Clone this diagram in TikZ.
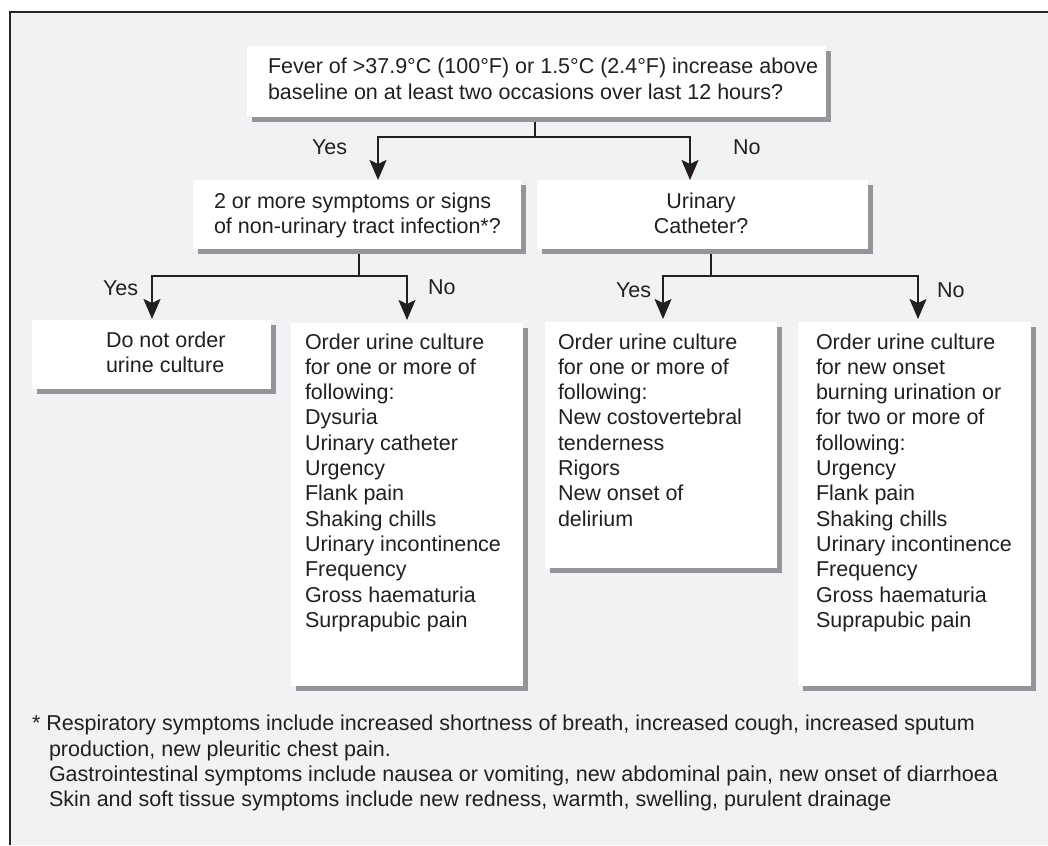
\documentclass[tikz,border=0pt]{standalone}
\usepackage{fontspec}
\setmainfont{Liberation Sans}
\usetikzlibrary{arrows.meta,shadows,calc}
\definecolor{panel}{HTML}{F1F2F4}
\definecolor{shade}{HTML}{939598}
\definecolor{ink}{HTML}{231F20}
\begin{document}
\begin{tikzpicture}[x=1pt,y=-1pt,
  box/.style={fill=white, draw=none, inner sep=0pt, outer sep=0pt, anchor=north west,
    drop shadow={shadow xshift=5pt, shadow yshift=-5pt, fill=shade, opacity=1}},
  txt/.style={inner sep=0pt, outer sep=0pt, anchor=base west, text=ink,
    font=\fontsize{21.5}{25.3}\selectfont},
  link/.style={draw=ink, line width=2pt},
  arrow/.style={link, -{Stealth[length=20pt,width=17pt,inset=4pt]}}]

% page and panel
\useasboundingbox (0,0) rectangle (1048,845);
\fill[white] (0,0) rectangle (1048,845);
\fill[panel] (10,12) rectangle (1048,845);
\draw[line width=1.2pt, draw=black!85] (10,845) -- (10,12) -- (1048,12);

% boxes
\node[box, minimum width=579pt, minimum height=71pt] (b1) at (247,46) {};
\node[box, minimum width=328pt, minimum height=69pt] (b2) at (193,180) {};
\node[box, minimum width=331pt, minimum height=69pt] (b3) at (537,180) {};
\node[box, minimum width=239pt, minimum height=69pt] (b4) at (32,320) {};
\node[box, minimum width=232pt, minimum height=363pt] (b5) at (291,323) {};
\node[box, minimum width=232pt, minimum height=246pt] (b6) at (545,322) {};
\node[box, minimum width=233pt, minimum height=364pt] (b7) at (798,322) {};

% box texts
\node[txt] (t1) at (268,74) {\begin{tabular}[t]{@{}l@{}}
  Fever of >37.9°C (100°F) or 1.5°C (2.4°F) increase above\\
  baseline on at least two occasions over last 12 hours?\end{tabular}};
\node[txt] (t2) at (214,208) {\begin{tabular}[t]{@{}l@{}}
  2 or more symptoms or signs\\
  of non-urinary tract infection*?\end{tabular}};
\node[txt, anchor=base] (t3) at (701,208) {\begin{tabular}[t]{@{}c@{}}
  Urinary\\ Catheter?\end{tabular}};
\node[txt] (t4) at (106,347) {\begin{tabular}[t]{@{}l@{}}
  Do not order\\ urine culture\end{tabular}};
\node[txt] (t5) at (305,349) {\begin{tabular}[t]{@{}l@{}}
  Order urine culture\\ for one or more of\\ following:\\ Dysuria\\
  Urinary catheter\\ Urgency\\ Flank pain\\ Shaking chills\\
  Urinary incontinence\\ Frequency\\ Gross haematuria\\
  Surprapubic pain\end{tabular}};
\node[txt] (t6) at (558,349) {\begin{tabular}[t]{@{}l@{}}
  Order urine culture\\ for one or more of\\ following:\\
  New costovertebral\\ tenderness\\ Rigors\\ New onset of\\
  delirium\end{tabular}};
\node[txt] (t7) at (816,349) {\begin{tabular}[t]{@{}l@{}}
  Order urine culture\\ for new onset\\ burning urination or\\
  for two or more of\\ following:\\ Urgency\\ Flank pain\\
  Shaking chills\\ Urinary incontinence\\ Frequency\\
  Gross haematuria\\ Suprapubic pain\end{tabular}};

% junctions and arrow tips
\coordinate (j1) at (535,137);
\coordinate (a2) at (378,180);
\coordinate (a3) at (690,180);
\coordinate (j2) at (359,276);
\coordinate (a4) at (152,319);
\coordinate (a5) at (407,320);
\coordinate (j3) at (711,276);
\coordinate (a6) at (663,319);
\coordinate (a7) at (918,319);

% connectors
\draw[link] ($(b1.south -| j1)+(0,5)$) -- (j1);
\draw[arrow] (j1) -| (a2);
\draw[arrow] (j1) -| (a3);
\draw[link] ($(b2.south -| j2)+(0,5)$) -- (j2);
\draw[arrow] (j2) -| (a4);
\draw[arrow] (j2) -| (a5);
\draw[link] ($(b3.south -| j3)+(0,5)$) -- (j3);
\draw[arrow] (j3) -| (a6);
\draw[arrow] (j3) -| (a7);

% branch labels
\node[txt] (y1) at (312,155) {Yes};
\node[txt] (n1) at (733,155) {No};
\node[txt] (y2) at (103,295) {Yes};
\node[txt] (n2) at (428,294) {No};
\node[txt] (y3) at (616,297) {Yes};
\node[txt] (n3) at (937,297) {No};

% footnote
\node[txt] (f1) at (32,730) {* Respiratory symptoms include increased shortness of breath, increased cough, increased sputum};
\node[txt] (f2) at (49,756) {\begin{tabular}[t]{@{}l@{}}
  production, new pleuritic chest pain.\\
  Gastrointestinal symptoms include nausea or vomiting, new abdominal pain, new onset of diarrhoea\\
  Skin and soft tissue symptoms include new redness, warmth, swelling, purulent drainage\end{tabular}};
\end{tikzpicture}
\end{document}
